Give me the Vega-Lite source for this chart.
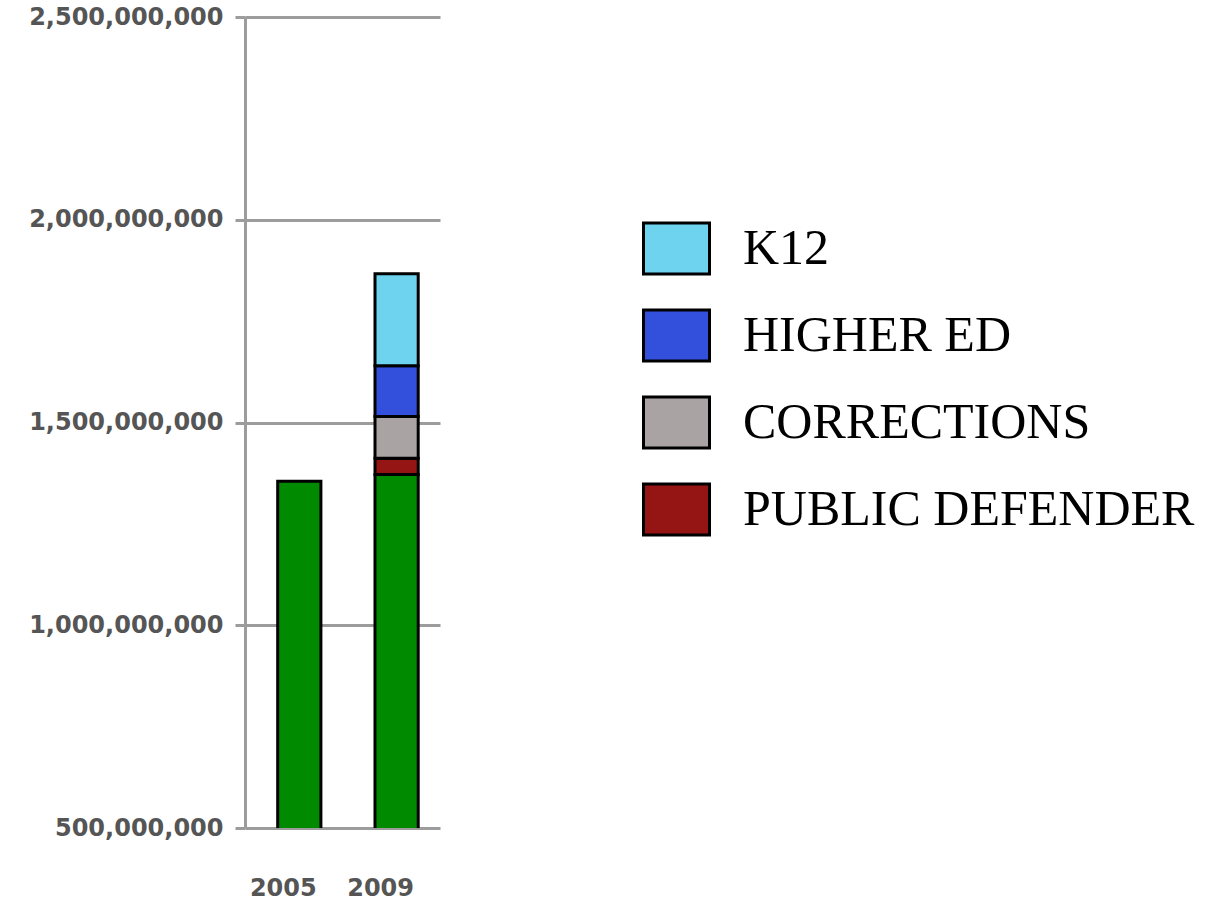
{
  "$schema": "https://vega.github.io/schema/vega-lite/v6.json",
  "autosize": {"type": "none"},
  "padding": {"left": 245, "top": 17, "right": 786, "bottom": 73},
  "width": 195,
  "height": 811,
  "background": "white",
  "data": {
    "values": [
      {"year": "2005", "category": "Base", "value": 1355000000},
      {"year": "2009", "category": "Base", "value": 1372000000},
      {"year": "2009", "category": "Public Defender", "value": 40000000},
      {"year": "2009", "category": "Corrections", "value": 103000000},
      {"year": "2009", "category": "Higher Ed", "value": 125000000},
      {"year": "2009", "category": "K12", "value": 227000000}
    ]
  },
  "transform": [
    {"calculate": "indexof(['Base', 'Public Defender', 'Corrections', 'Higher Ed', 'K12'], datum.category)", "as": "stackOrder"}
  ],
  "mark": {"type": "bar", "clip": true, "stroke": "black", "strokeWidth": 3},
  "encoding": {
    "x": {
      "field": "year",
      "type": "nominal",
      "title": null,
      "scale": {"paddingInner": 0.556, "paddingOuter": 0.28, "align": 0.6},
      "axis": {
        "labelAngle": 0,
        "ticks": false,
        "domain": false,
        "labelPadding": 48,
        "labelOffset": -16,
        "labelFont": "DejaVu Sans",
        "labelFontWeight": "bold",
        "labelFontSize": 24,
        "labelColor": "#555555"
      }
    },
    "y": {
      "field": "value",
      "type": "quantitative",
      "stack": "zero",
      "title": null,
      "scale": {"domain": [500000000, 2500000000], "zero": false, "nice": false},
      "axis": {
        "values": [500000000, 1000000000, 1500000000, 2000000000, 2500000000],
        "format": ",d",
        "grid": true,
        "gridColor": "#9c9c9c",
        "gridWidth": 3,
        "gridOpacity": 1,
        "domainColor": "#9c9c9c",
        "domainWidth": 3,
        "tickColor": "#9c9c9c",
        "tickWidth": 3,
        "tickSize": 10,
        "labelPadding": 12,
        "labelLimit": 400,
        "labelFont": "DejaVu Sans",
        "labelFontWeight": "bold",
        "labelFontSize": 24,
        "labelColor": "#555555"
      }
    },
    "order": {"field": "stackOrder", "type": "quantitative", "sort": "ascending"},
    "color": {
      "field": "category",
      "type": "nominal",
      "scale": {
        "domain": ["K12", "Higher Ed", "Corrections", "Public Defender", "Base"],
        "range": ["#6dd3ee", "#3250dc", "#a9a3a4", "#951414", "#008a00"]
      },
      "legend": {
        "orient": "none",
        "legendX": 397,
        "legendY": 197,
        "title": null,
        "padding": 0,
        "values": ["K12", "Higher Ed", "Corrections", "Public Defender"],
        "labelExpr": "upper(datum.label)",
        "symbolType": "M-1,-0.773H1V0.773H-1Z",
        "symbolSize": 4356,
        "symbolStrokeColor": "black",
        "symbolStrokeWidth": 3,
        "symbolOpacity": 1,
        "labelFont": "Liberation Serif",
        "labelFontSize": 50,
        "labelColor": "black",
        "labelOffset": 32,
        "labelLimit": 600,
        "rowPadding": 20
      }
    }
  },
  "config": {"view": {"stroke": null}}
}
